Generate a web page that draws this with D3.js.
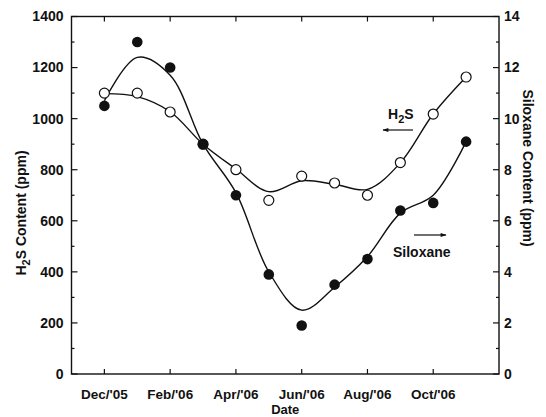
<html>
<head>
<script src="https://d3js.org/d3.v7.min.js"></script>
<style>
  body { margin: 0; background: #fff; }
  text { font-family: "Liberation Sans", Arial, sans-serif; font-weight: bold; fill: #111; }
</style>
</head>
<body>
<svg id="chart" width="546" height="417"></svg>
<script>
// month index 0 = Nov'05 ... 13 = Dec'06
var monthLabels = ["Dec/'05", "Feb/'06", "Apr/'06", "Jun/'06", "Aug/'06", "Oct/'06"];
var labelIdx = [1, 3, 5, 7, 9, 11];
var sampleIdx = [1, 2, 3, 4, 5, 6, 7, 8, 9, 10, 11, 12];

// measured points
var h2s = [1100, 1100, 1026, 900, 800, 680, 775, 748, 700, 828, 1018, 1163];
var siloxane = [10.5, 13.0, 12.0, 9.0, 7.0, 3.9, 1.9, 3.5, 4.5, 6.4, 6.7, 9.1];

// fitted curves
var h2sFit = [1098, 1086, 1027, 900, 803, 714, 757, 743, 723, 827, 1018, 1163];
var siloxaneFit = [10.7, 12.4, 11.7, 9.0, 7.1, 4.0, 2.5, 3.4, 4.6, 6.3, 7.0, 9.1];

var pl = 71.5, pr = 499, pt = 16.5, pb = 374;
var svg = d3.select("#chart");

var x = d3.scaleLinear().domain([0, 13]).range([pl, pr]);
var yL = d3.scaleLinear().domain([0, 1400]).range([pb, pt]);
var yR = d3.scaleLinear().domain([0, 14]).range([pb, pt]);

// frame
svg.append("rect")
  .attr("x", pl).attr("y", pt)
  .attr("width", pr - pl).attr("height", pb - pt)
  .attr("fill", "none").attr("stroke", "#111").attr("stroke-width", 1.4);

// left axis ticks (inward)
var gl = svg.append("g");
d3.range(0, 1401, 100).forEach(function(v) {
  var major = v % 200 == 0;
  gl.append("line").attr("x1", pl).attr("x2", pl + (major ? 6 : 3))
    .attr("y1", yL(v)).attr("y2", yL(v)).attr("stroke", "#111").attr("stroke-width", 1.2);
  if (major) {
    gl.append("text").attr("x", pl - 8).attr("y", yL(v)).attr("dy", "0.35em")
      .attr("text-anchor", "end").style("font-size", "14px").text(v);
  }
});

// right axis ticks (inward)
var gr = svg.append("g");
d3.range(0, 15, 1).forEach(function(v) {
  var major = v % 2 == 0;
  gr.append("line").attr("x1", pr).attr("x2", pr - (major ? 6 : 3))
    .attr("y1", yR(v)).attr("y2", yR(v)).attr("stroke", "#111").attr("stroke-width", 1.2);
  if (major) {
    gr.append("text").attr("x", pr + 5).attr("y", yR(v)).attr("dy", "0.35em")
      .attr("text-anchor", "start").style("font-size", "14px").text(v);
  }
});

// x ticks top and bottom
labelIdx.forEach(function(m, i) {
  svg.append("line").attr("x1", x(m)).attr("x2", x(m)).attr("y1", pb).attr("y2", pb - 5)
    .attr("stroke", "#111").attr("stroke-width", 1.2);
  svg.append("line").attr("x1", x(m)).attr("x2", x(m)).attr("y1", pt).attr("y2", pt + 5)
    .attr("stroke", "#111").attr("stroke-width", 1.2);
  svg.append("text").attr("x", x(m)).attr("y", 394).attr("dy", "0.35em")
    .attr("text-anchor", "middle").style("font-size", "13.5px").text(monthLabels[i]);
});

// axis titles
svg.append("text").attr("x", x(6.5)).attr("y", 409.5).attr("dy", "0.35em")
  .attr("text-anchor", "middle").style("font-size", "13px").text("Date");

var lt = svg.append("text").attr("transform", "translate(26,213) rotate(-90)")
  .attr("text-anchor", "middle").style("font-size", "14px");
lt.append("tspan").text("H");
lt.append("tspan").attr("dy", 4).style("font-size", "11px").text("2");
lt.append("tspan").attr("dy", -4).text("S Content (ppm)");

svg.append("text").attr("transform", "translate(523,168) rotate(90)")
  .attr("text-anchor", "middle").style("font-size", "14px").text("Siloxane Content (ppm)");

// fitted curves
var lineL = d3.line().x(function(d, i) { return x(sampleIdx[i]); })
  .y(function(d) { return yL(d); }).curve(d3.curveCatmullRom.alpha(0.5));
var lineR = d3.line().x(function(d, i) { return x(sampleIdx[i]); })
  .y(function(d) { return yR(d); }).curve(d3.curveCatmullRom.alpha(0.5));

svg.append("path").datum(h2sFit).attr("d", lineL)
  .attr("fill", "none").attr("stroke", "#111").attr("stroke-width", 1.4);
svg.append("path").datum(siloxaneFit).attr("d", lineR)
  .attr("fill", "none").attr("stroke", "#111").attr("stroke-width", 1.4);

// points
svg.append("g").selectAll("circle").data(h2s).enter().append("circle")
  .attr("cx", function(d, i) { return x(sampleIdx[i]); })
  .attr("cy", function(d) { return yL(d); })
  .attr("r", 5).attr("fill", "#fff").attr("stroke", "#111").attr("stroke-width", 1.2);
svg.append("g").selectAll("circle").data(siloxane).enter().append("circle")
  .attr("cx", function(d, i) { return x(sampleIdx[i]); })
  .attr("cy", function(d) { return yR(d); })
  .attr("r", 5.3).attr("fill", "#111");

// annotations
svg.append("defs").append("marker").attr("id", "arr")
  .attr("viewBox", "0 0 10 10").attr("refX", 9).attr("refY", 5)
  .attr("markerWidth", 9).attr("markerHeight", 5).attr("orient", "auto")
  .append("path").attr("d", "M0,1.5L10,5L0,8.5Z").attr("fill", "#111");

var ht = svg.append("text").attr("x", 388).attr("y", 119).style("font-size", "14px");
ht.append("tspan").text("H");
ht.append("tspan").attr("dy", 4).style("font-size", "11px").text("2");
ht.append("tspan").attr("dy", -4).text("S");
svg.append("line").attr("x1", 413).attr("x2", 383).attr("y1", 130).attr("y2", 130)
  .attr("stroke", "#111").attr("stroke-width", 1.2).attr("marker-end", "url(#arr)");

svg.append("text").attr("x", 393).attr("y", 257).style("font-size", "14px").text("Siloxane");
svg.append("line").attr("x1", 414).attr("x2", 446).attr("y1", 235).attr("y2", 235)
  .attr("stroke", "#111").attr("stroke-width", 1.2).attr("marker-end", "url(#arr)");
</script>
</body>
</html>
